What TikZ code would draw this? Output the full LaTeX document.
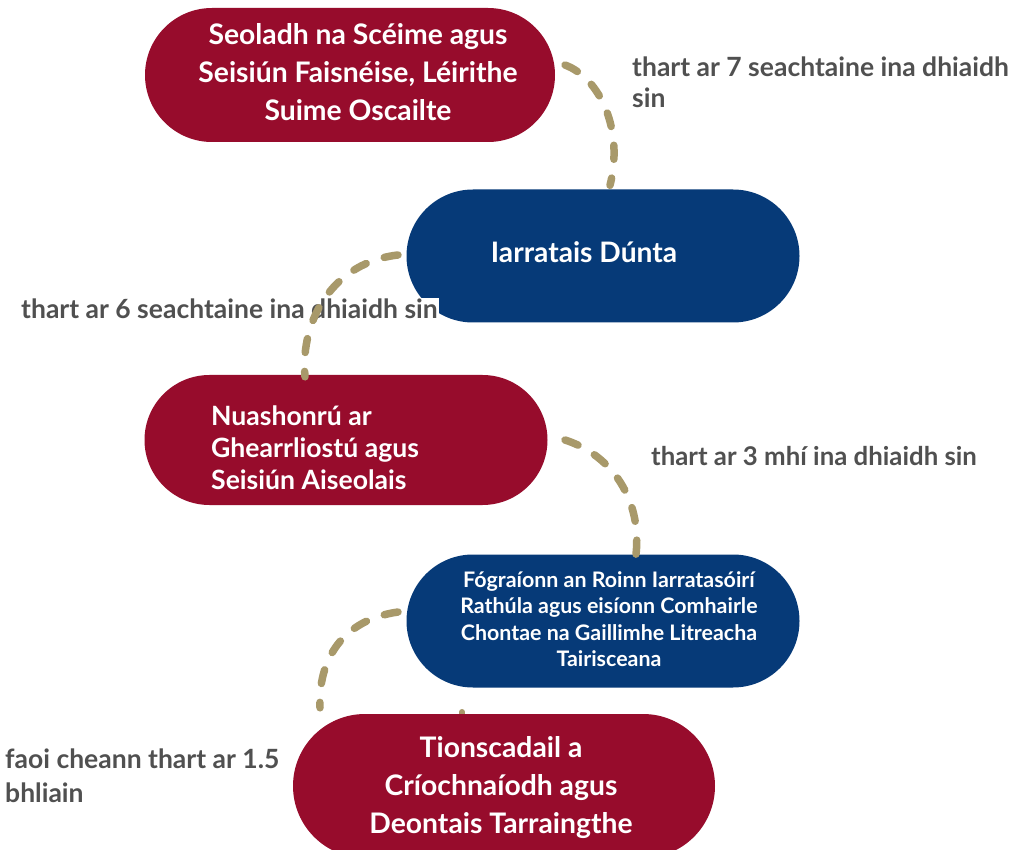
\documentclass[tikz,border=0pt]{standalone}
\usepackage{fontspec}
\setmainfont{Lato}
\usetikzlibrary{shapes.misc}
\definecolor{cred}{HTML}{970C2C}
\definecolor{cblue}{HTML}{063A78}
\definecolor{ctan}{HTML}{A8996A}
\definecolor{cgray}{HTML}{505050}
\tikzset{
  blob/.style={rounded rectangle, inner sep=0pt, fill=#1},
  btext/.style={text=white, align=center, inner sep=0pt},
  conn/.style={draw=ctan, line width=7.5pt, line cap=round, dash pattern=on 14pt off 19pt},
  lbl/.style={text=cgray, align=left, inner sep=0pt}
}
\begin{document}
\begin{tikzpicture}[x=1pt,y=-1pt]
\useasboundingbox[fill=white] (0,0) rectangle (1013,850);
\coordinate (c1s) at (565,65);
\coordinate (c2s) at (398,255);
\coordinate (c3s) at (565,440);
\coordinate (c4s) at (398,612);
\coordinate (s5a) at (462,712);
\coordinate (s5b) at (462,726);
% stub behind the last shape
\draw[conn, line width=6pt, dash pattern=on 8pt off 8pt] (s5a) -- (s5b);
% shapes
\node[blob=cred, minimum width=410pt, minimum height=134pt] (n1) at (350,75) {};
\node[blob=cblue, minimum width=393pt, minimum height=133pt] (n2) at (603,256) {};
\node[blob=cred, minimum width=403pt, minimum height=130pt] (n3) at (346,440) {};
\node[blob=cblue, minimum width=393pt, minimum height=133pt] (n4) at (603,621) {};
\node[blob=cred, minimum width=422pt, minimum height=144pt] (n5) at (504,786) {};
% texts
\node[btext, font=\bfseries\fontsize{28.3}{38}\selectfont] (t1) at (358,72)
  {Seoladh na Scéime agus\\Seisiún Faisnéise, Léirithe\\Suime Oscailte};
\node[btext, font=\bfseries\fontsize{28.2}{38}\selectfont] (t2) at (584,252) {Iarratais Dúnta};
\node[btext, font=\bfseries\fontsize{26.6}{32}\selectfont, align=left, anchor=west] (t3) at (211,448)
  {Nuashonrú ar\\Ghearrliostú agus\\Seisiún Aiseolais};
\node[btext, font=\bfseries\fontsize{21.4}{26.5}\selectfont] (t4) at (609,619)
  {Fógraíonn an Roinn Iarratasóirí\\Rathúla agus eisíonn Comhairle\\Chontae na Gaillimhe Litreacha\\Tairisceana};
\node[btext, font=\bfseries\fontsize{28.3}{38}\selectfont] (t5) at (501,788)
  {Tionscadail a\\Críochnaíodh agus\\Deontais Tarraingthe};
% label with white background over the blue shape
\node[lbl, fill=white, inner sep=1pt, font=\bfseries\fontsize{26.5}{31}\selectfont, anchor=base west] (l2) at (20,319) {thart ar 6 seachtaine ina dhiaidh sin};
% connectors
\draw[conn] (c1s) .. controls (600,78) and (624,130) .. ([shift={(7,-4)}]n2.north);
\draw[conn] (c2s) .. controls (335,262) and (300,318) .. ([shift={(-41,2)}]n3.north);
\draw[conn] (c3s) .. controls (612,455) and (642,500) .. ([shift={(33,0)}]n4.north);
\draw[conn] (c4s) .. controls (342,620) and (318,660) .. ([shift={(-184,-6)}]n5.north);
% labels
\node[lbl, font=\bfseries\fontsize{26.5}{31}\selectfont, anchor=base west] (l1) at (632,108) {thart ar 7 seachtaine ina dhiaidh\\sin};
\node[lbl, font=\bfseries\fontsize{25.8}{31}\selectfont, anchor=base west] (l3) at (651,466) {thart ar 3 mhí ina dhiaidh sin};
\node[lbl, font=\bfseries\fontsize{26.5}{34}\selectfont, anchor=base west] (l4) at (5,802) {faoi cheann thart ar 1.5\\bhliain};
\end{tikzpicture}
\end{document}
